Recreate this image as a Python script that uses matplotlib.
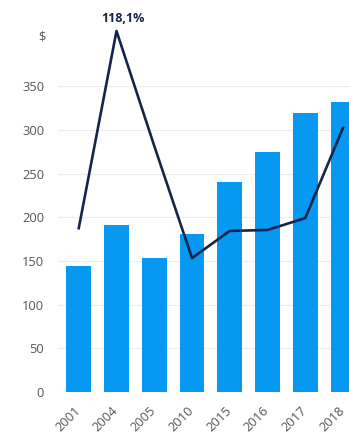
import matplotlib.pyplot as plt
from matplotlib.transforms import ScaledTranslation

years = ['2001', '2004', '2005', '2010', '2015', '2016', '2017', '2018']
dollars = [144, 191, 153, 181, 240, 275, 320, 332]
percent = [53.6, 118.1, 80.5, 43.8, 52.7, 53.0, 56.9, 86.4]
yticks = [0, 50, 100, 150, 200, 250, 300, 350]

plt.rcParams['font.family'] = ['Open Sans', 'DejaVu Sans']

fig = plt.figure(figsize=(3.49, 4.37), dpi=100)
ax = fig.add_axes([58 / 349, 45 / 437, 302 / 349, 372 / 437])

x = range(len(years))
ax.bar(x, dollars, width=0.66, color='#0798f2', zorder=2)
ax.set_xlim(-0.55, 7.45)
ax.set_ylim(0, 426)
ax.set_yticks(yticks)
ax.set_xticks(list(x))
ax.set_xticklabels(years, rotation=45, ha='right', rotation_mode='anchor')
ax.tick_params(length=0, colors='#555555', labelsize=9.3, pad=10)
ax.tick_params(axis='x', pad=9)
shift = ScaledTranslation(-5 / 100, 0, fig.dpi_scale_trans)
for lbl in ax.get_xticklabels():
    lbl.set_transform(lbl.get_transform() + shift)
ax.grid(axis='y', color='#ececec', lw=0.8, zorder=0)
for s in ax.spines.values():
    s.set_visible(False)
ax.text(-0.04, 0.955, '$', transform=ax.transAxes, ha='right', va='center',
        fontsize=9.3, color='#555555')

ax2 = ax.twinx()
ax2.plot(x, percent, color='#14254a', lw=1.9, clip_on=False, zorder=3)
ax2.set_ylim(0, 121.7)
ax2.axis('off')
ax2.annotate('118,1%', (1, percent[1]), xytext=(4.5, 4), textcoords='offset points',
             ha='center', va='bottom', fontsize=9, fontweight='bold', color='#14254a')

fig.savefig('out.png', dpi=100)
